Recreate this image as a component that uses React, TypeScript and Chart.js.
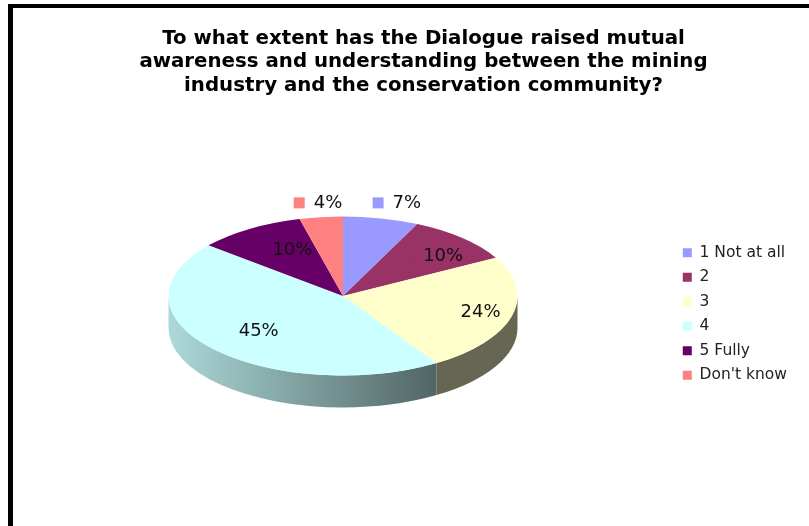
import { useEffect, useRef } from "react";
import { Chart, registerables } from "chart.js";

Chart.register(...registerables);

const categories = ["1 Not at all", "2", "3", "4", "5 Fully", "Don't know"];
const shares = [7, 10, 24, 45, 10, 4];
const sliceColors = ["#9999FF", "#993366", "#FFFFCC", "#CCFFFF", "#660066", "#FF8080"];
const titleLines = [
  "To what extent has the Dialogue raised mutual",
  "awareness and understanding between the mining",
  "industry and the conservation community?",
];

// Where each percentage sits, as fractions of the ellipse radii from the pie centre.
const labelAnchors = [
  [0.366, -1.165],
  [0.574, -0.5],
  [0.788, 0.2],
  [-0.483, 0.45],
  [-0.29, -0.58],
  [-0.086, -1.165],
];

// Pie drawn as a tilted disc: top-face ellipse and wall height.
const PIE = { cx: 343, cy: 296, rx: 174.5, ry: 79.5, depth: 32 };
// Brightness of the wall from its left edge to its right edge.
const wallShade = [
  [0, 0.85],
  [0.76, 0.4],
  [1, 0.4],
];

const shaded = (hex: string, f: number) => {
  const n = parseInt(hex.slice(1), 16);
  const c = [(n >> 16) & 255, (n >> 8) & 255, n & 255].map((v) => Math.round(v * f));
  return `rgb(${c[0]},${c[1]},${c[2]})`;
};

const tiltedPie = {
  id: "tiltedPie",
  beforeDatasetsDraw(chart: any) {
    const { ctx } = chart;
    const arcs = chart.getDatasetMeta(0).data;
    const { cx, cy, rx, ry, depth } = PIE;
    // Only the part of the rim facing the viewer shows a wall.
    arcs.forEach((arc: any, i: number) => {
      const a = Math.max(arc.startAngle, 0);
      const b = Math.min(arc.endAngle, Math.PI);
      if (b <= a) return;
      const grad = ctx.createLinearGradient(cx - rx, 0, cx + rx, 0);
      wallShade.forEach(([t, f]) => grad.addColorStop(t, shaded(sliceColors[i], f)));
      ctx.beginPath();
      ctx.ellipse(cx, cy, rx, ry, 0, a, b);
      ctx.ellipse(cx, cy + depth, rx, ry, 0, b, a, true);
      ctx.closePath();
      ctx.fillStyle = grad;
      ctx.fill();
    });
    // Flatten the library's circular arcs onto the ellipse of the top face.
    const first = arcs[0];
    ctx.save();
    ctx.translate(cx, cy);
    ctx.scale(rx / first.outerRadius, ry / first.outerRadius);
    ctx.translate(-first.x, -first.y);
  },
  afterDatasetsDraw(chart: any) {
    const { ctx } = chart;
    ctx.restore();
    const { cx, cy, rx, ry } = PIE;
    ctx.font = "18px 'DejaVu Sans'";
    ctx.textBaseline = "middle";
    ctx.textAlign = "center";
    shares.forEach((v, i) => {
      const text = `${v}%`;
      const x = cx + labelAnchors[i][0] * rx;
      const y = cy + labelAnchors[i][1] * ry;
      const w = ctx.measureText(text).width;
      ctx.fillStyle = sliceColors[i];
      ctx.fillRect(x - w / 2 - 20, y - 6, 11, 11);
      ctx.fillStyle = "#111";
      ctx.fillText(text, x, y);
    });
  },
};

export default function App() {
  const ref = useRef<HTMLCanvasElement>(null);
  useEffect(() => {
    const chart = new Chart(ref.current!, {
      type: "pie",
      data: {
        labels: categories,
        datasets: [{ data: shares, backgroundColor: sliceColors, borderWidth: 0, clip: false } as any],
      },
      options: {
        responsive: false,
        animation: false,
        layout: { padding: { left: 50, right: 12, top: 0, bottom: 134 } },
        plugins: {
          tooltip: { enabled: false },
          title: {
            display: true,
            text: titleLines,
            color: "#000",
            font: { family: "'DejaVu Sans'", size: 19.8, weight: "bold", lineHeight: 1.19 },
            padding: { top: 27, bottom: 10 },
          },
          legend: {
            position: "right",
            align: "end",
            labels: {
              color: "#222",
              font: { family: "'DejaVu Sans'", size: 15.5 },
              boxWidth: 9,
              boxHeight: 9,
              padding: 9,
            },
          },
        },
      },
      plugins: [tiltedPie],
    });
    return () => chart.destroy();
  }, []);
  return (
    <div style={{ position: "fixed", left: 0, top: 0, width: 809, height: 526, background: "#fff" }}>
      <div
        style={{
          position: "absolute",
          left: 8,
          top: 4,
          width: 801,
          height: 522,
          boxSizing: "border-box",
          borderTop: "4px solid #000",
          borderLeft: "5px solid #000",
        }}
      />
      <canvas ref={ref} width={809} height={526} style={{ position: "absolute", left: 0, top: 0 }} />
    </div>
  );
}
